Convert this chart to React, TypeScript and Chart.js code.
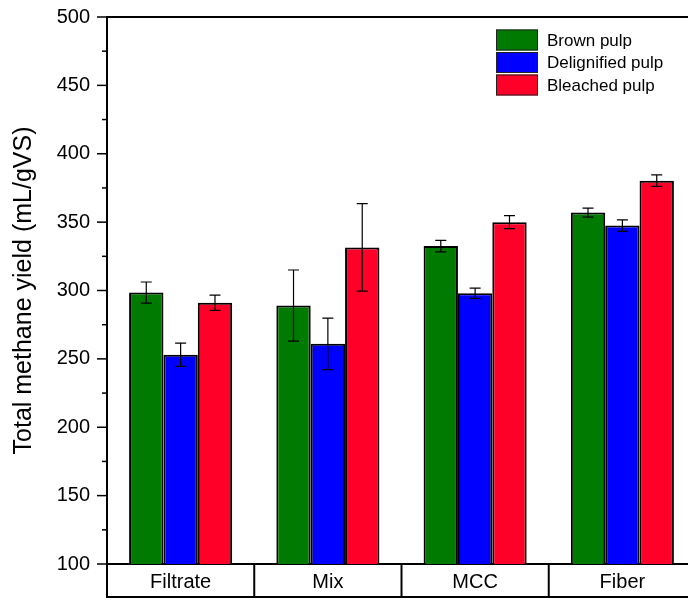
import React, { useEffect, useRef } from "react";
import { Chart, registerables } from "chart.js";

Chart.register(...registerables);

const categories = ["Filtrate", "Mix", "MCC", "Fiber"];
const seriesNames = ["Brown pulp", "Delignified pulp", "Bleached pulp"];
const seriesColors = ["#007a00", "#0000ff", "#ff0028"];

const brownPulp = [298.5, 289, 332.5, 357];
const brownPulpErr = [7.7, 26, 4.2, 3.3];
const delignifiedPulp = [253, 261, 298, 347.5];
const delignifiedPulpErr = [8.5, 18.8, 3.8, 4.2];
const bleachedPulp = [291, 331.5, 350, 380.3];
const bleachedPulpErr = [5.6, 32, 4.7, 4.2];

const yMin = 100;
const yMax = 500;
const yMajorStep = 50;
const yMinorStep = 25;

const FONT = "Arial, 'Liberation Sans', sans-serif";

const seriesValues = [brownPulp, delignifiedPulp, bleachedPulp];
const seriesErrors = [brownPulpErr, delignifiedPulpErr, bleachedPulpErr];

// Frame, minor/major ticks, category table, error bars and legend.
const decorPlugin = {
  id: "decor",
  afterDatasetsDraw(chart: any) {
    const { ctx, chartArea } = chart;
    const { left, right, top, bottom } = chartArea;
    const yScale = chart.scales.y;
    ctx.save();

    // error bars
    ctx.strokeStyle = "#000";
    ctx.lineWidth = 1.2;
    seriesErrors.forEach((errs, di) => {
      const meta = chart.getDatasetMeta(di);
      meta.data.forEach((bar: any, i: number) => {
        const v = seriesValues[di][i];
        const e = errs[i];
        const yTop = yScale.getPixelForValue(v + e);
        const yBot = yScale.getPixelForValue(v - e);
        const x = bar.x;
        const cap = 5.5;
        ctx.beginPath();
        ctx.moveTo(x, yTop);
        ctx.lineTo(x, yBot);
        ctx.moveTo(x - cap, yTop);
        ctx.lineTo(x + cap, yTop);
        ctx.moveTo(x - cap, yBot);
        ctx.lineTo(x + cap, yBot);
        ctx.stroke();
      });
    });

    // top frame line
    ctx.lineWidth = 2;
    ctx.beginPath();
    ctx.moveTo(left - 1, top);
    ctx.lineTo(right, top);
    ctx.stroke();

    // y ticks (major and minor)
    for (let v = yMin; v <= yMax; v += yMinorStep) {
      const y = yScale.getPixelForValue(v);
      const len = v % yMajorStep === 0 ? 10 : 5;
      ctx.lineWidth = 1.5;
      ctx.beginPath();
      ctx.moveTo(left - len, y);
      ctx.lineTo(left, y);
      ctx.stroke();
    }

    // category table under the plot
    const tableBottom = 597;
    const catW = (right - left) / categories.length;
    ctx.lineWidth = 2;
    for (let i = 0; i <= categories.length; i++) {
      const x = left + i * catW;
      ctx.beginPath();
      ctx.moveTo(x, bottom);
      ctx.lineTo(x, tableBottom);
      ctx.stroke();
    }
    ctx.beginPath();
    ctx.moveTo(left - 1, tableBottom);
    ctx.lineTo(right, tableBottom);
    ctx.stroke();

    // legend
    const lx = 496;
    const ly = 29.5;
    const boxW = 42;
    const boxH = 21;
    const rowH = 22.5;
    ctx.font = `17px ${FONT}`;
    ctx.textBaseline = "middle";
    ctx.textAlign = "left";
    seriesNames.forEach((name, i) => {
      const y = ly + i * rowH;
      ctx.fillStyle = seriesColors[i];
      ctx.fillRect(lx, y, boxW, boxH);
      ctx.lineWidth = 1;
      ctx.strokeStyle = "#222";
      ctx.strokeRect(lx + 0.5, y + 0.5, boxW - 1, boxH - 1);
      ctx.fillStyle = "#000";
      ctx.fillText(name, lx + 51, y + boxH / 2 + 1);
    });

    ctx.restore();
  },
};

export default function App() {
  const canvasRef = useRef<HTMLCanvasElement | null>(null);

  useEffect(() => {
    const canvas = canvasRef.current;
    if (!canvas) return;
    const chart = new Chart(canvas, {
      type: "bar",
      data: {
        labels: categories,
        datasets: seriesNames.map((name, i) => ({
          label: name,
          data: seriesValues[i],
          backgroundColor: seriesColors[i],
          borderColor: "#000",
          borderWidth: 2,
          borderSkipped: "bottom",
          categoryPercentage: 0.7,
          barPercentage: 1.0,
        })),
      },
      options: {
        responsive: false,
        animation: false,
        events: [],
        layout: { padding: { top: 17, left: 0, right: 0, bottom: 0 } },
        plugins: {
          legend: { display: false },
          tooltip: { enabled: false },
        },
        scales: {
          x: {
            grid: { display: false, drawTicks: false },
            border: { display: true, color: "#000", width: 2 },
            ticks: {
              color: "#000",
              padding: 6,
              font: { family: FONT, size: 20 },
              maxRotation: 0,
            },
            afterFit(scale: any) {
              scale.height = 36;
            },
          },
          y: {
            min: yMin,
            max: yMax,
            grid: {
              display: true,
              drawOnChartArea: false,
              drawTicks: true,
              tickLength: 17,
              tickColor: "rgba(0,0,0,0)",
            },
            border: { display: true, color: "#000", width: 2 },
            ticks: {
              stepSize: yMajorStep,
              color: "#000",
              padding: 0,
              font: { family: FONT, size: 20 },
            },
            title: {
              display: true,
              text: "Total methane yield (mL/gVS)",
              color: "#000",
              font: { family: FONT, size: 25 },
              padding: { top: 9, bottom: 0 },
            },
            afterFit(scale: any) {
              scale.width = 107;
            },
          },
        },
      },
      plugins: [decorPlugin],
    });
    return () => chart.destroy();
  }, []);

  return (
    <div
      style={{
        position: "fixed",
        left: 0,
        top: 0,
        width: 696,
        height: 600,
        background: "#fff",
      }}
    >
      <canvas ref={canvasRef} width={696} height={600} style={{ display: "block" }} />
    </div>
  );
}
